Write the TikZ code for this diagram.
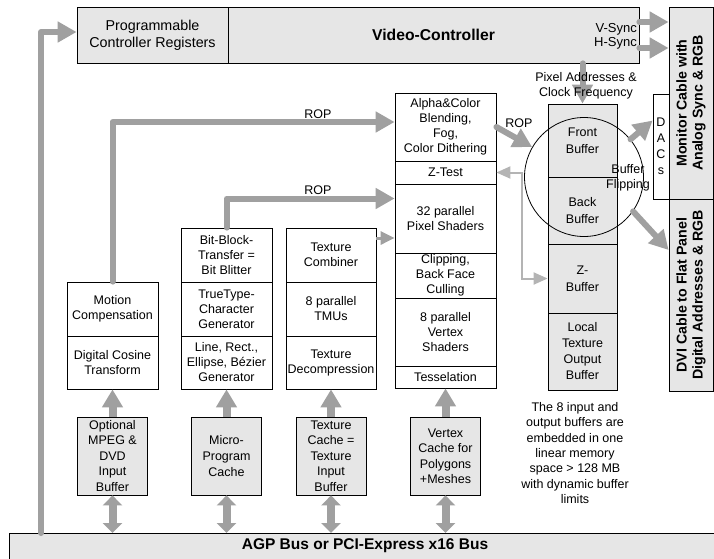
\documentclass[tikz,border=0pt]{standalone}
\usepackage{fontspec}
\setmainfont{Liberation Sans}
\usetikzlibrary{arrows.meta}
\definecolor{boxgray}{RGB}{230,230,230}
\definecolor{arrowgray}{RGB}{160,160,160}
\definecolor{linkgray}{RGB}{180,180,180}
\tikzset{
  blk/.style={draw, line width=0.8pt, rectangle, inner sep=0pt, align=center, font=\fontsize{12.5}{15}\selectfont},
  gblk/.style={blk, fill=boxgray},
  txt/.style={inner sep=0pt, align=center, font=\fontsize{12.5}{15}\selectfont},
  bigarrow/.style={draw=arrowgray, line width=6pt, line cap=round, line join=round, -{Triangle[width=20pt,length=19pt]}},
  uparrow/.style={draw=arrowgray, line width=8pt, -{Triangle[width=20pt,length=18pt]}},
  busarrow/.style={draw=arrowgray, line width=8pt, {Triangle[width=19pt,length=10pt]}-{Triangle[width=19pt,length=10pt]}},
  smallarrow/.style={draw=arrowgray, line width=3pt, -{Triangle[width=13pt,length=14pt]}}
}
\begin{document}
\begin{tikzpicture}[x=1pt, y=-1pt]
  \useasboundingbox (0,0) rectangle (714,558);
  \node[gblk, minimum width=151pt, minimum height=56pt, font=\fontsize{14.3}{17}\selectfont] (pcr) at (152.5,35) {Programmable\\Controller Registers};
  \node[gblk, minimum width=411pt, minimum height=56pt, font=\fontsize{15.7}{18}\bfseries] (vc) at (433.5,35) {Video-Controller};
  \node[gblk, rotate=90, minimum width=192pt, minimum height=44pt, font=\fontsize{14.2}{16}\bfseries] (mon) at (691,103) {Monitor Cable with\\Analog Sync \& RGB};
  \node[gblk, rotate=90, minimum width=192pt, minimum height=44pt, font=\fontsize{14.2}{16}\bfseries] (dvi) at (691,295) {DVI Cable to Flat Panel\\Digital Addresses \& RGB};
  \node[blk, fill=white, minimum width=16pt, minimum height=105pt, font=\fontsize{12.5}{16}\selectfont] (dac) at (661,146.5) {D\\A\\C\\s};

  \node[blk, minimum width=101pt, minimum height=68pt] (alpha) at (445.5,127) {Alpha\&Color\\Blending,\\Fog,\\Color Dithering};
  \node[blk, minimum width=101pt, minimum height=23pt] (ztest) at (445.5,172.5) {Z-Test};
  \node[blk, minimum width=101pt, minimum height=69pt] (pix) at (445.5,218.5) {32 parallel\\Pixel Shaders};
  \node[blk, minimum width=101pt, minimum height=45pt] (clip) at (445.5,275.5) {Clipping,\\Back Face\\Culling};
  \node[blk, minimum width=101pt, minimum height=68pt] (vert) at (445.5,332) {8 parallel\\Vertex\\Shaders};
  \node[blk, minimum width=101pt, minimum height=22pt] (tess) at (445.5,377) {Tesselation};

  \node[blk, minimum width=90pt, minimum height=54pt] (tcomb) at (331,255) {Texture\\Combiner};
  \node[blk, minimum width=90pt, minimum height=54pt] (tmu) at (331,309) {8 parallel\\TMUs};
  \node[blk, minimum width=90pt, minimum height=53pt] (tdec) at (331,362.5) {Texture\\Decompression};

  \node[blk, minimum width=91pt, minimum height=54pt] (blit) at (226.5,255) {Bit-Block-\\Transfer =\\Bit Blitter};
  \node[blk, minimum width=91pt, minimum height=54pt] (ttf) at (226.5,309) {TrueType-\\Character\\Generator};
  \node[blk, minimum width=91pt, minimum height=53pt] (line) at (226.5,362.5) {Line, Rect.,\\Ellipse, Bézier\\Generator};

  \node[blk, minimum width=91pt, minimum height=54pt] (mot) at (112.5,309) {Motion\\Compensation};
  \node[blk, minimum width=91pt, minimum height=53pt] (dct) at (112.5,362.5) {Digital Cosine\\Transform};

  \node[gblk, minimum width=70pt, minimum height=78pt, font=\fontsize{12.5}{15.5}\selectfont] (mpeg) at (112.5,456) {Optional\\MPEG \&\\DVD\\Input\\Buffer};
  \node[gblk, minimum width=70pt, minimum height=78pt, font=\fontsize{12.5}{16}\selectfont] (micro) at (226.5,456) {Micro-\\Program\\Cache};
  \node[gblk, minimum width=70pt, minimum height=78pt, font=\fontsize{12.5}{15.5}\selectfont] (tcache) at (331,456) {Texture\\Cache =\\Texture\\Input\\Buffer};
  \node[gblk, minimum width=70pt, minimum height=78pt, font=\fontsize{12.5}{15.5}\selectfont] (vcache) at (445.5,456) {Vertex\\Cache for\\Polygons\\+Meshes};

  \node[gblk, minimum width=69pt, minimum height=73pt, font=\fontsize{12.5}{17}\selectfont] (front) at (582.5,140.5) {Front\\Buffer};
  \node[gblk, minimum width=69pt, minimum height=67pt, font=\fontsize{12.5}{17}\selectfont] (back) at (582.5,210.5) {Back\\Buffer};
  \node[gblk, minimum width=69pt, minimum height=69pt, font=\fontsize{12.5}{17}\selectfont] (zbuf) at (582.5,278.5) {Z-\\Buffer};
  \node[gblk, minimum width=69pt, minimum height=77pt, font=\fontsize{12.5}{16}\selectfont] (local) at (582.5,351.5) {Local\\Texture\\Output\\Buffer};
  \node[draw, line width=0.8pt, circle, minimum size=119pt, inner sep=0pt] (flip) at (584,177) {};

  \node[gblk, minimum width=712pt, minimum height=40pt, anchor=north west] (bus) at (9,533) {};
  \node[txt, font=\fontsize{15.5}{17}\bfseries] (bustxt) at (365,546) {AGP Bus or PCI-Express x16 Bus};

  \coordinate (vs) at ([yshift=13pt]vc.east);
  \coordinate (hs) at ([yshift=-13pt]vc.east);
  \coordinate (tc) at ([yshift=17pt]tcomb.east);
  \begin{scope}[bigarrow]
    \draw ([xshift=32pt]bus.north west) |- ([yshift=3pt]pcr.west);
    \draw (mot.north) |- ([yshift=5pt]alpha.west);
    \draw (blit.north) |- ([yshift=20pt]pix.west);
    \draw (alpha.east) -- (flip.150);
    \draw (front.north |- vc.south) -- (front.north);
    \draw (vs) -- (vs -| mon.north);
    \draw (hs) -- (hs -| mon.north);
    \draw (flip.39) -- ([yshift=26pt]dac.west);
    \draw (flip.-35) -- ([yshift=45pt]dvi.north);
  \end{scope}
  \draw[smallarrow] (tc) -- (tc -| pix.west);
  \draw[draw=linkgray, line width=2pt, {Triangle[width=12pt,length=14pt]}-{Triangle[width=12pt,length=14pt]}] (ztest.east) -| ([xshift=-26pt]zbuf.west) -- (zbuf.west);
  \begin{scope}[uparrow]
    \draw (mpeg.north) -- (dct.south);
    \draw (micro.north) -- (line.south);
    \draw (tcache.north) -- (tdec.south);
    \draw (vcache.north) -- (tess.south);
  \end{scope}
  \begin{scope}[busarrow]
    \draw (mpeg.south) -- (mpeg.south |- bus.north);
    \draw (micro.south) -- (micro.south |- bus.north);
    \draw (tcache.south) -- (tcache.south |- bus.north);
    \draw (vcache.south) -- (vcache.south |- bus.north);
  \end{scope}

  \node[txt, anchor=east, font=\fontsize{13}{15}\selectfont] (vsync) at (637,29) {V-Sync};
  \node[txt, anchor=east, font=\fontsize{13}{15}\selectfont] (hsync) at (637,43) {H-Sync};
  \node[txt] (pixlbl) at (586,86) {Pixel Addresses \&\\Clock Frequency};
  \node[txt] (rop1) at (318,114) {ROP};
  \node[txt] (rop2) at (318,190) {ROP};
  \node[txt] (rop3) at (519,123) {ROP};
  \node[txt] (fliplbl) at (628,177.5) {Buffer\\Flipping};
  \node[txt, font=\fontsize{12.5}{15.3}\selectfont] (note) at (575,453) {The 8 input and\\output buffers are\\embedded in one\\linear memory\\space > 128 MB\\with dynamic buffer\\limits};
\end{tikzpicture}
\end{document}
